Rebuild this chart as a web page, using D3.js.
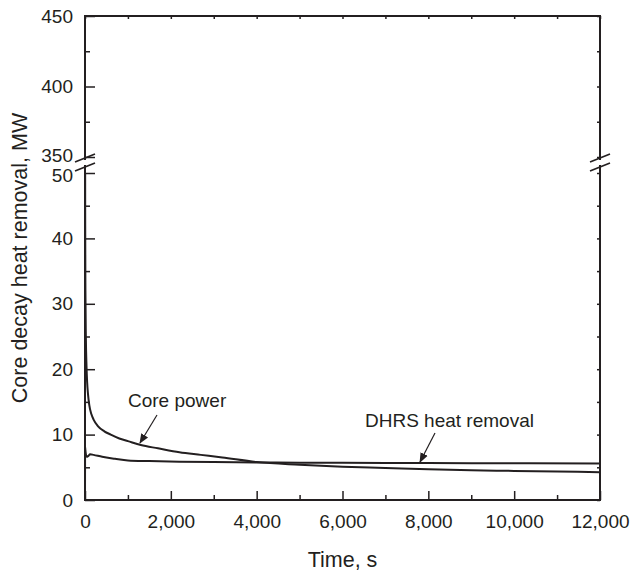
<!DOCTYPE html>
<html>
<head>
<meta charset="utf-8">
<script src="https://cdn.jsdelivr.net/npm/d3@7"></script>
<style>
  body { margin: 0; background: #fff; }
  text { font-family: "Liberation Sans", Arial, sans-serif; fill: #231f20; }
</style>
</head>
<body>
<div id="chart-area"></div>
<script>
// values
var coreTime  = [0, 2, 5, 10, 20, 35, 50, 70, 100, 150, 200, 300, 450, 600, 800, 1000, 1300, 1700, 2200, 2700, 3200, 4000, 5000, 6000, 7000, 8000, 9000, 10000, 11000, 12000];
var corePower = [402, 60, 42, 32, 25, 20.5, 18, 16.2, 14.5, 13.1, 12.3, 11.3, 10.5, 10.0, 9.4, 9.0, 8.4, 7.9, 7.3, 6.9, 6.5, 5.8, 5.4, 5.1, 4.9, 4.7, 4.55, 4.45, 4.35, 4.25];
var dhrsTime  = [0, 3, 8, 20, 40, 70, 120, 200, 400, 700, 1000, 1500, 2200, 3000, 4000, 5000, 6000, 8000, 10000, 12000];
var dhrsPower = [0, 8.1, 7.7, 7.0, 6.6, 6.7, 7.0, 6.9, 6.6, 6.3, 6.05, 5.95, 5.85, 5.8, 5.75, 5.7, 5.68, 5.65, 5.62, 5.58];

var xTicks = [0, 2000, 4000, 6000, 8000, 10000, 12000];
var xMinor = [1000, 3000, 5000, 7000, 9000, 11000];
var yLowTicks = [0, 10, 20, 30, 40, 50];
var yLowMinor = [5, 15, 25, 35, 45];
var yHighTicks = [350, 400, 450];
var yHighMinor = [375, 425];

var ink = "#231f20";
var pLeft = 85, pRight = 600, pTop = 16, pBottom = 500;
var lowTop = 173, highBottom = 157;

var svg = d3.select("#chart-area").append("svg")
  .attr("width", 630)
  .attr("height", 575);

var x = d3.scaleLinear().domain([0, 12000]).range([pLeft, pRight]);
var yLow = d3.scaleLinear().domain([0, 50]).range([pBottom, lowTop]);
var yHigh = d3.scaleLinear().domain([350, 450]).range([highBottom, pTop]);

var defs = svg.append("defs");
defs.append("clipPath").attr("id", "clipLow").append("rect")
  .attr("x", pLeft).attr("y", lowTop).attr("width", pRight - pLeft).attr("height", pBottom - lowTop);
defs.append("clipPath").attr("id", "clipHigh").append("rect")
  .attr("x", pLeft).attr("y", pTop).attr("width", pRight - pLeft).attr("height", highBottom - pTop);
defs.append("marker")
  .attr("id", "arrow")
  .attr("viewBox", "0 0 10 10")
  .attr("refX", 9).attr("refY", 5)
  .attr("markerWidth", 10).attr("markerHeight", 10)
  .attr("markerUnits", "userSpaceOnUse")
  .attr("orient", "auto")
  .append("path")
  .attr("d", "M0,1 L10,5 L0,9 Z")
  .attr("fill", ink);

function styleAxis(g) {
  g.select(".domain").remove();
  g.selectAll(".tick line").attr("stroke", ink).attr("stroke-width", 1.5);
  g.selectAll("text").attr("font-size", "19px").style("fill", ink);
}

// bottom axis
svg.append("g")
  .attr("transform", "translate(0," + pBottom + ")")
  .call(d3.axisBottom(x).tickValues(xTicks).tickSize(-9).tickSizeOuter(0).tickPadding(15)
    .tickFormat(d3.format(",")))
  .call(styleAxis);
svg.append("g")
  .attr("transform", "translate(0," + pBottom + ")")
  .call(d3.axisBottom(x).tickValues(xMinor).tickSize(-5).tickSizeOuter(0).tickFormat(""))
  .call(styleAxis);
// top axis
svg.append("g")
  .attr("transform", "translate(0," + pTop + ")")
  .call(d3.axisTop(x).tickValues(xTicks.concat(xMinor)).tickSize(-3).tickSizeOuter(0).tickFormat(""))
  .call(styleAxis);

// left axis, both pieces
var lowAxis = svg.append("g")
  .attr("transform", "translate(" + pLeft + ",0)")
  .call(d3.axisLeft(yLow).tickValues(yLowTicks).tickSize(-10).tickSizeOuter(0).tickPadding(12))
  .call(styleAxis);
svg.append("g")
  .attr("transform", "translate(" + pLeft + ",0)")
  .call(d3.axisLeft(yLow).tickValues(yLowMinor).tickSize(-5).tickSizeOuter(0).tickFormat(""))
  .call(styleAxis);
var highAxis = svg.append("g")
  .attr("transform", "translate(" + pLeft + ",0)")
  .call(d3.axisLeft(yHigh).tickValues(yHighTicks).tickSize(-10).tickSizeOuter(0).tickPadding(12))
  .call(styleAxis);
svg.append("g")
  .attr("transform", "translate(" + pLeft + ",0)")
  .call(d3.axisLeft(yHigh).tickValues(yHighMinor).tickSize(-5).tickSizeOuter(0).tickFormat(""))
  .call(styleAxis);

// the 350 and 50 labels sit right on top of each other at the break
highAxis.selectAll(".tick text").filter(function(d) { return d === 350; }).attr("y", -2);
lowAxis.selectAll(".tick text").filter(function(d) { return d === 50; }).attr("y", 2);

// right axis
svg.append("g")
  .attr("transform", "translate(" + pRight + ",0)")
  .call(d3.axisRight(yLow).tickValues(yLowTicks.concat(yLowMinor)).tickSize(-3).tickSizeOuter(0).tickFormat(""))
  .call(styleAxis);
svg.append("g")
  .attr("transform", "translate(" + pRight + ",0)")
  .call(d3.axisRight(yHigh).tickValues(yHighTicks.concat(yHighMinor)).tickSize(-3).tickSizeOuter(0).tickFormat(""))
  .call(styleAxis);

// frame
svg.append("rect")
  .attr("x", pLeft).attr("y", pTop)
  .attr("width", pRight - pLeft).attr("height", pBottom - pTop)
  .attr("fill", "none")
  .attr("stroke", ink)
  .attr("stroke-width", 2);

// axis breaks
[pLeft, pRight].forEach(function(bx) {
  svg.append("rect")
    .attr("x", bx - 3).attr("y", 160).attr("width", 6).attr("height", 5)
    .attr("fill", "#fff");
  [158, 167].forEach(function(by) {
    svg.append("line")
      .attr("x1", bx - 10).attr("y1", by + 4)
      .attr("x2", bx + 10).attr("y2", by - 4)
      .attr("stroke", ink)
      .attr("stroke-width", 1.8);
  });
});

// series
var series = [
  {t: coreTime, v: corePower},
  {t: dhrsTime, v: dhrsPower}
];
series.forEach(function(s) {
  var pts = s.t.map(function(t, i) { return [t, s.v[i]]; });
  svg.append("path")
    .datum(pts)
    .attr("clip-path", "url(#clipLow)")
    .attr("fill", "none")
    .attr("stroke", ink)
    .attr("stroke-width", 2)
    .attr("d", d3.line().curve(d3.curveMonotoneX)
      .x(function(d) { return x(d[0]); }).y(function(d) { return yLow(d[1]); }));
  svg.append("path")
    .datum(pts)
    .attr("clip-path", "url(#clipHigh)")
    .attr("fill", "none")
    .attr("stroke", ink)
    .attr("stroke-width", 2)
    .attr("d", d3.line()
      .x(function(d) { return x(d[0]); }).y(function(d) { return yHigh(d[1]); }));
});

// annotations
svg.append("text")
  .attr("x", 128).attr("y", 407)
  .attr("font-size", "19px")
  .text("Core power");
svg.append("line")
  .attr("x1", 157).attr("y1", 415)
  .attr("x2", 140).attr("y2", 443)
  .attr("stroke", ink)
  .attr("stroke-width", 1.2)
  .attr("marker-end", "url(#arrow)");

svg.append("text")
  .attr("x", 365).attr("y", 427)
  .attr("font-size", "19px")
  .text("DHRS heat removal");
svg.append("line")
  .attr("x1", 435).attr("y1", 433)
  .attr("x2", 420).attr("y2", 462)
  .attr("stroke", ink)
  .attr("stroke-width", 1.2)
  .attr("marker-end", "url(#arrow)");

// axis titles
svg.append("text")
  .attr("x", (pLeft + pRight) / 2)
  .attr("y", 567)
  .attr("font-size", "21.5px")
  .attr("text-anchor", "middle")
  .text("Time, s");

svg.append("text")
  .attr("transform", "translate(27," + ((pTop + pBottom) / 2) + ") rotate(-90)")
  .attr("font-size", "21.5px")
  .attr("text-anchor", "middle")
  .text("Core decay heat removal, MW");
</script>
</body>
</html>
